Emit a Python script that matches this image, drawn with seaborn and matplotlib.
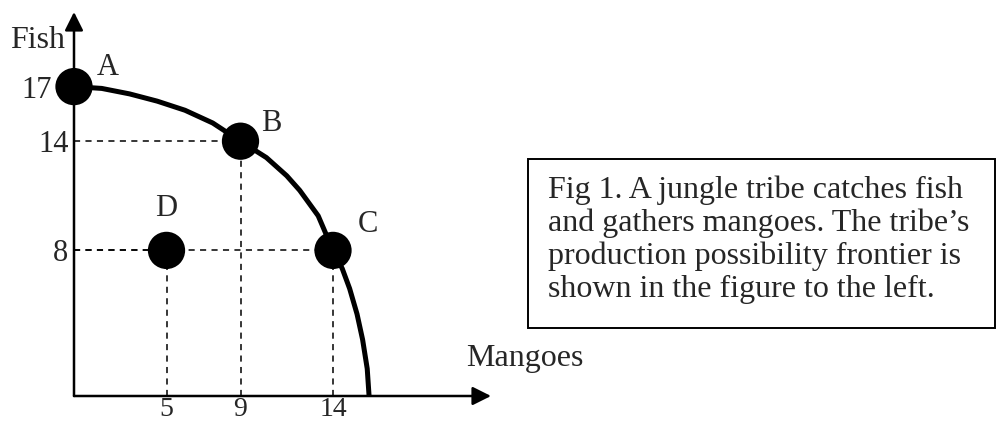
import numpy as np
import pandas as pd
import matplotlib
matplotlib.use("Agg")
import matplotlib.pyplot as plt
from matplotlib.patches import Rectangle
from matplotlib.transforms import ScaledTranslation
import seaborn as sns

sns.set_style("white")
plt.rcParams['font.family'] = ['Liberation Serif', 'DejaVu Serif']

# points on the frontier and inside it
point_names = ["A", "B", "C", "D"]
mangoes = [0, 9, 14, 5]
fish = [17, 14, 8, 8]

# frontier
curve_mangoes = [0, 1.5, 3, 4.5, 6, 7.5, 9, 10.4, 11.5, 12.2, 13.2, 14, 14.5, 14.9, 15.3, 15.6, 15.85, 15.95]
curve_fish = [17, 16.9, 16.6, 16.2, 15.7, 15.0, 14, 13.1, 12.1, 11.3, 9.9, 8, 7.0, 5.9, 4.5, 3.1, 1.5, 0]

x_ticks = [5, 9, 14]
y_ticks = [8, 14, 17]

caption = ["Fig 1. A jungle tribe catches fish",
           "and gathers mangoes. The tribe\u2019s",
           "production possibility frontier is",
           "shown in the figure to the left."]

pts = pd.DataFrame({"name": point_names, "mangoes": mangoes, "fish": fish})
frontier = pd.DataFrame({"mangoes": curve_mangoes, "fish": curve_fish})

fig = plt.figure(figsize=(9.96, 4.28), dpi=100)
ax = fig.add_axes([74 / 996, 32 / 428, 417 / 996, 384 / 428])
ax.set_xlim(0, 417 / 18.5)
ax.set_ylim(0, 384 / 18.2)

# dashed guides to the axes
for _, r in pts.iterrows():
    if r["name"] == "A":
        continue
    ax.plot([0, r["mangoes"]], [r["fish"], r["fish"]], ls=(0, (4, 3.5)), color="k", lw=1.1)
    ax.plot([r["mangoes"], r["mangoes"]], [0, r["fish"]], ls=(0, (4, 3.5)), color="k", lw=1.1)

sns.lineplot(data=frontier, x="mangoes", y="fish", sort=False, color="k", lw=3.6, ax=ax, estimator=None)
sns.scatterplot(data=pts, x="mangoes", y="fish", s=720, color="k", edgecolor="none", ax=ax, zorder=5, clip_on=False)

offsets = {"A": (24, 14), "B": (22, 13), "C": (25, 19), "D": (0, 30)}
for _, r in pts.iterrows():
    ax.annotate(r["name"], (r["mangoes"], r["fish"]), xytext=offsets[r["name"]],
                textcoords="offset points", ha="center", va="center", fontsize=22)

# axes as arrows
for s in ax.spines.values():
    s.set_visible(False)
ax.annotate("", xy=(1, 0), xytext=(0, 0), xycoords="axes fraction",
            arrowprops=dict(arrowstyle="-|>", lw=1.8, color="k", mutation_scale=28, shrinkA=0, shrinkB=0))
ax.annotate("", xy=(0, 1), xytext=(0, 0), xycoords="axes fraction",
            arrowprops=dict(arrowstyle="-|>", lw=1.8, color="k", mutation_scale=28, shrinkA=0, shrinkB=0))

ax.set_xticks(x_ticks)
ax.set_yticks(y_ticks)
ax.set_xticklabels([str(v) for v in x_ticks])
ax.set_yticklabels([str(v) for v in y_ticks])
ax.tick_params(length=0)
ax.tick_params(axis="x", pad=1, labelsize=20)
ax.tick_params(axis="y", pad=4, labelsize=22)
ax.set_xlabel("")
ax.set_ylabel("")

# 17 sits left of the big dot at A
lbl17 = ax.get_yticklabels()[-1]
lbl17.set_transform(lbl17.get_transform() + ScaledTranslation(-12 / 72, 0, fig.dpi_scale_trans))

fig.text(10 / 996, 1 - 48 / 428, "Fish", fontsize=23, ha="left", va="baseline")
fig.text(466 / 996, 1 - 366 / 428, "Mangoes", fontsize=23, ha="left", va="baseline")

fig.patches.append(Rectangle((528 / 996, 1 - 328 / 428), 467 / 996, 169 / 428,
                             transform=fig.transFigure, fill=False, lw=1.4, ec="k"))
for i, line in enumerate(caption):
    fig.text(548 / 996, 1 - (198 + 33 * i) / 428, line, fontsize=23, ha="left", va="baseline")

fig.savefig("out.png", dpi=100)
